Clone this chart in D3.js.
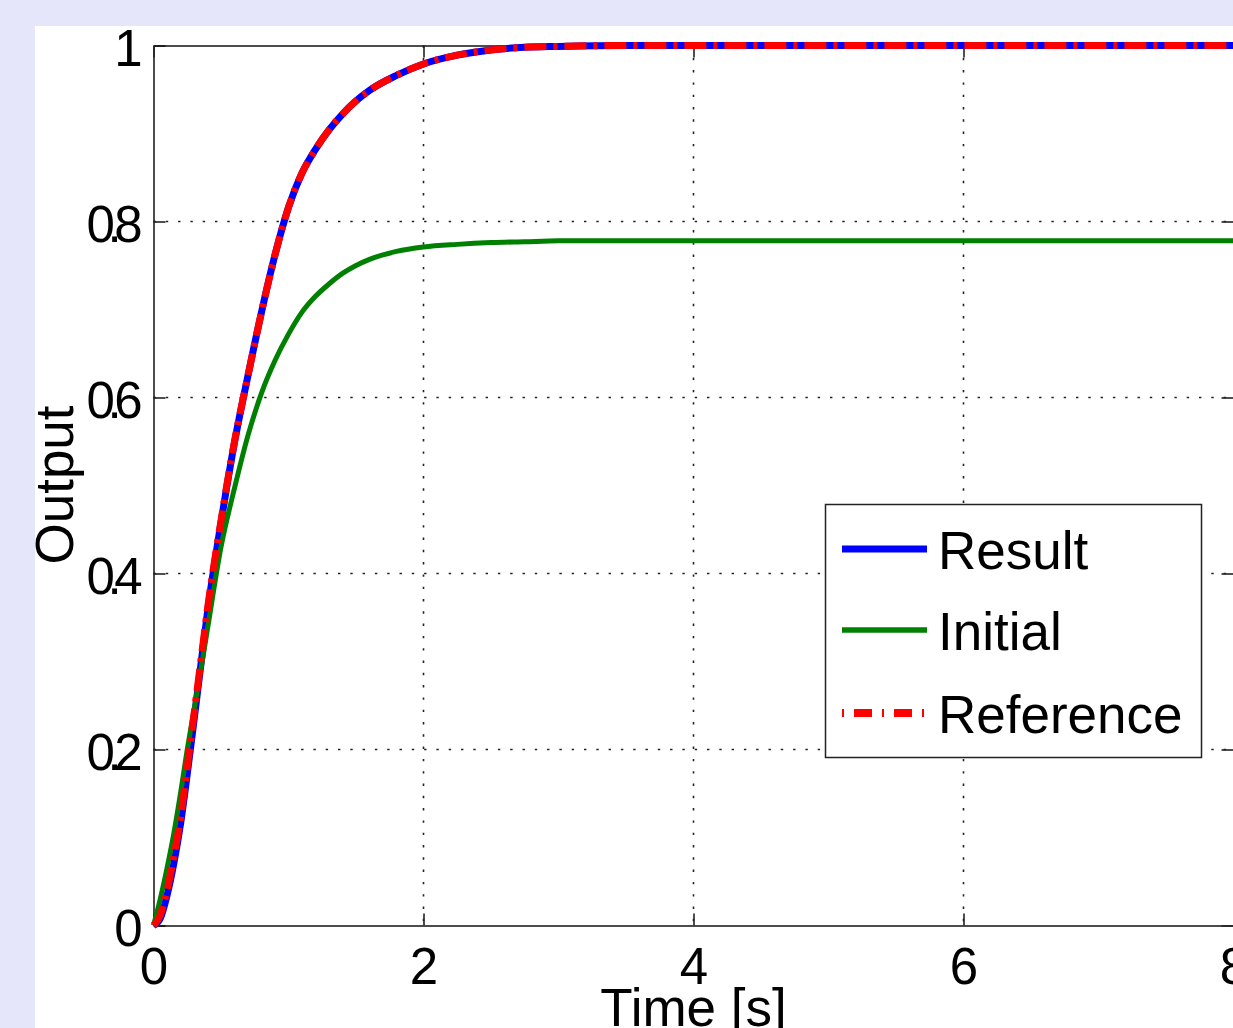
<!DOCTYPE html>
<html>
<head>
<meta charset="utf-8">
<script src="https://cdn.jsdelivr.net/npm/d3@7"></script>
<style>
  html, body { margin: 0; padding: 0; background: #e6e6fa; overflow: hidden; width: 1233px; height: 1028px; }
  svg { display: block; }
  text { font-family: "Liberation Sans", Arial, Helvetica, sans-serif; fill: #000; }
</style>
</head>
<body>
<script>
// ---- Data ----
const time = [0, 0.05, 0.1, 0.15, 0.2, 0.25, 0.3, 0.35, 0.4, 0.5, 0.6, 0.7, 0.8, 0.9, 1.0, 1.1, 1.2, 1.3, 1.4, 1.5, 1.6, 1.8, 2.0, 2.25, 2.5, 2.75, 3, 3.5, 4, 5, 6, 7, 8];
const resultValues = [0, 0.008, 0.034, 0.070, 0.115, 0.172, 0.233, 0.295, 0.356, 0.458, 0.549, 0.625, 0.697, 0.762, 0.816, 0.855, 0.882, 0.904, 0.922, 0.937, 0.949, 0.966, 0.979, 0.989, 0.995, 0.998, 0.999, 1.0, 1.0, 1.0, 1.0, 1.0, 1.0];
const initialValues = [0, 0.030, 0.065, 0.104, 0.150, 0.200, 0.245, 0.290, 0.337, 0.430, 0.497, 0.557, 0.605, 0.642, 0.672, 0.697, 0.715, 0.729, 0.741, 0.750, 0.757, 0.766, 0.771, 0.774, 0.776, 0.777, 0.778, 0.778, 0.778, 0.778, 0.778, 0.778, 0.778];
const referenceValues = [0, 0.012, 0.040, 0.078, 0.122, 0.180, 0.240, 0.300, 0.360, 0.460, 0.550, 0.625, 0.697, 0.762, 0.816, 0.855, 0.882, 0.904, 0.922, 0.937, 0.949, 0.966, 0.979, 0.989, 0.995, 0.998, 0.999, 1.0, 1.0, 1.0, 1.0, 1.0, 1.0];
const seriesNames = ["Result", "Initial", "Reference"];
const xTicks = [0, 2, 4, 6, 8];
const xTickLabels = ["0", "2", "4", "6", "8"];
const yTicks = [0, 0.2, 0.4, 0.6, 0.8, 1];
const yTickLabels = ["0", "0.2", "0.4", "0.6", "0.8", "1"];
const xLabel = "Time [s]";
const yLabel = "Output";

(function () {
// ---- Layout ----
const W = 1300, H = 1028;
const pL = 153.5, pR = 1233.5, pT = 45.5, pB = 925.5;

const svg = d3.select("body").append("svg").attr("width", W).attr("height", H);
svg.append("rect").attr("x", 35).attr("y", 26).attr("width", W).attr("height", H).attr("fill", "#fff");

const x = d3.scaleLinear().domain([0, 8]).range([pL, pR]);
const y = d3.scaleLinear().domain([0, 1]).range([pB, pT]);

// grid
const grid = svg.append("g").attr("stroke", "#222").attr("stroke-width", 1.6).attr("stroke-dasharray", "2.4,9.9");
grid.selectAll("line.gy").data(yTicks.filter(d => d > 0 && d < 1)).enter().append("line")
  .attr("x1", pL).attr("x2", pR + 20).attr("y1", d => y(d)).attr("y2", d => y(d));
grid.selectAll("line.gx").data(xTicks.filter(d => d > 0 && d < 8)).enter().append("line")
  .attr("y1", pT).attr("y2", pB).attr("x1", d => x(d)).attr("x2", d => x(d));

// axes
const fmtY = (d) => yTickLabels[yTicks.indexOf(d)];
const fmtX = (d) => xTickLabels[xTicks.indexOf(d)];

const axL = svg.append("g").attr("transform", `translate(${pL},0)`)
  .call(d3.axisLeft(y).tickValues(yTicks).tickFormat(fmtY).tickSizeInner(-12).tickSizeOuter(0).tickPadding(11));
const axB = svg.append("g").attr("transform", `translate(0,${pB})`)
  .call(d3.axisBottom(x).tickValues(xTicks).tickFormat(fmtX).tickSizeInner(-12).tickSizeOuter(0).tickPadding(22));
const axT = svg.append("g").attr("transform", `translate(0,${pT})`)
  .call(d3.axisTop(x).tickValues(xTicks).tickFormat("").tickSizeInner(-12).tickSizeOuter(0));
const axR = svg.append("g").attr("transform", `translate(${pR},0)`)
  .call(d3.axisRight(y).tickValues(yTicks).tickFormat("").tickSizeInner(-12).tickSizeOuter(0));

[axL, axB, axT, axR].forEach(g => {
  g.select(".domain").attr("stroke", "#111").attr("stroke-width", 1.5);
  g.selectAll(".tick line").attr("stroke", "#222").attr("stroke-width", 1.6);
  g.selectAll(".tick text").attr("font-size", 51).attr("font-family", "Liberation Sans, Arial, sans-serif").attr("fill", "#000");
});
axL.selectAll(".tick text").attr("dy", "0.40em")
  .each(function(d) { const s = fmtY(d); if (s.indexOf(".") >= 0) d3.select(this).attr("textLength", 56).attr("lengthAdjust", "spacing"); });

// axis labels
svg.append("text").attr("x", x(4)).attr("y", 1026).attr("text-anchor", "middle")
  .attr("font-size", 53).text(xLabel);
svg.append("text").attr("transform", `translate(73,${485}) rotate(-90)`).attr("text-anchor", "middle")
  .attr("font-size", 53).text(yLabel);

// lines
const lineGen = (vals) => d3.line().x((d, i) => x(time[i])).y(d => y(d)).curve(d3.curveMonotoneX)(vals);
svg.append("path").attr("d", lineGen(resultValues)).attr("fill", "none").attr("stroke", "#0000ff").attr("stroke-width", 7);
svg.append("path").attr("d", lineGen(initialValues)).attr("fill", "none").attr("stroke", "#008000").attr("stroke-width", 5);
svg.append("path").attr("d", lineGen(referenceValues)).attr("fill", "none").attr("stroke", "#ff0000").attr("stroke-width", 7)
  .attr("stroke-dasharray", "22,7,4,7");

// legend
const lg = svg.append("g");
lg.append("rect").attr("x", 825.5).attr("y", 504.5).attr("width", 376).attr("height", 253)
  .attr("fill", "#fff").attr("stroke", "#222").attr("stroke-width", 1.5);
const legendStyles = [
  { color: "#0000ff", width: 7, dash: null },
  { color: "#008000", width: 5.5, dash: null },
  { color: "#ff0000", width: 8, dash: "2,10,18,10" }
];
const legendY = [549, 630, 713];
seriesNames.forEach((name, i) => {
  const st = legendStyles[i];
  const l = lg.append("line").attr("x1", 842).attr("x2", 927).attr("y1", legendY[i]).attr("y2", legendY[i])
    .attr("stroke", st.color).attr("stroke-width", st.width);
  if (st.dash) l.attr("stroke-dasharray", st.dash);
  lg.append("text").attr("x", 938).attr("y", legendY[i] + 20).attr("font-size", 53).text(name);
});
})();
</script>
</body>
</html>
